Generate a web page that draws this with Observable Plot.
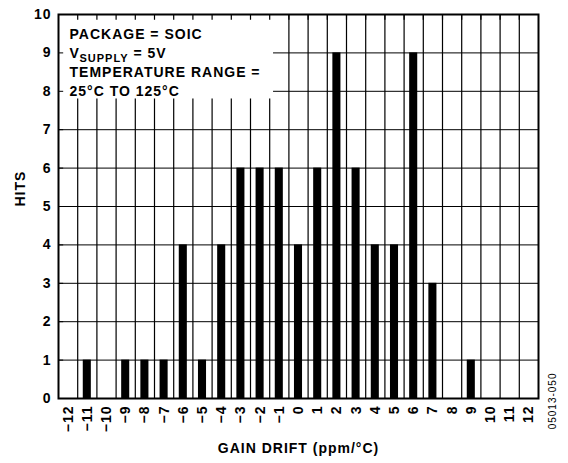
<!DOCTYPE html>
<html>
<head>
<meta charset="utf-8">
<script src="https://cdn.jsdelivr.net/npm/d3@7"></script>
<script src="https://cdn.jsdelivr.net/npm/@observablehq/plot@0.6"></script>
<style>
  html, body { margin: 0; padding: 0; background: #fff; }
</style>
</head>
<body>
<div id="chart"></div>
<script>
// ---- data ----
const gainDrift = [-12, -11, -10, -9, -8, -7, -6, -5, -4, -3, -2, -1, 0, 1, 2, 3, 4, 5, 6, 7, 8, 9, 10, 11, 12];
const hits      = [  0,   1,   0,  1,  1,  1,  4,  1,  4,  6,  6,  6, 4, 6, 9, 6, 4, 4, 9, 3, 0, 1,  0,  0,  0];
const xTickLabels = ["−12", "−11", "−10", "−9", "−8", "−7", "−6", "−5", "−4", "−3", "−2", "−1", "0", "1", "2", "3", "4", "5", "6", "7", "8", "9", "10", "11", "12"];
const yTicks = [0, 1, 2, 3, 4, 5, 6, 7, 8, 9, 10];
const xLabel = "GAIN DRIFT (ppm/°C)";
const yLabel = "HITS";
const figureId = "05013-050";
const noteLines = ["PACKAGE = SOIC", "V", "SUPPLY", "= 5V", "TEMPERATURE RANGE =", "25°C TO 125°C"];

const table = gainDrift.map((g, i) => ({g, h: hits[i]})).filter(d => d.h > 0);
const xMin = gainDrift[0] - 0.5, xMax = gainDrift[gainDrift.length - 1] + 0.5;
const cellEdges = d3.range(xMin + 1, xMax, 1);
const barHalf = 0.21;
const font = "Arial, 'Liberation Sans', Helvetica, sans-serif";

const plot = Plot.plot({
  width: 568,
  height: 463,
  marginLeft: 58,
  marginRight: 30,
  marginTop: 14,
  marginBottom: 65,
  style: {fontFamily: font, fontSize: "14px", fontWeight: "bold", letterSpacing: "1px", color: "#000", background: "#fff"},
  x: {domain: [xMin, xMax], ticks: gainDrift, tickFormat: d => xTickLabels[gainDrift.indexOf(d)], tickRotate: -90, tickSize: 0, tickPadding: 7, label: null},
  y: {domain: [0, 10], ticks: yTicks, tickSize: 0, tickPadding: 7, label: null},
  marks: [
    Plot.ruleY(yTicks, {y: d => d, stroke: "#000", strokeWidth: 1}),
    Plot.ruleX(cellEdges, {x: d => d, stroke: "#000", strokeWidth: 1.2}),
    Plot.rect([0], {x1: xMin, x2: -1.3, y1: 7.8, y2: 10, fill: "#fff"}),
    Plot.rectY(table, {x1: d => d.g - barHalf, x2: d => d.g + barHalf, y1: 0, y2: d => d.h, fill: "#000"}),
    Plot.ruleY(yTicks, {y: d => d, x1: xMin, x2: xMin + 0.27, stroke: "#000"}),
    Plot.ruleX(cellEdges, {x: d => d, y1: 10, y2: 9.85, stroke: "#000", strokeWidth: 1.2}),
    Plot.frame({stroke: "#000", strokeWidth: 2}),
    Plot.text([noteLines[0]], {frameAnchor: "top-left", textAnchor: "start", lineAnchor: "bottom", dx: 11, dy: 24, text: d => d}),
    Plot.text([noteLines[1]], {frameAnchor: "top-left", textAnchor: "start", lineAnchor: "bottom", dx: 11, dy: 43, text: d => d}),
    Plot.text([noteLines[2]], {frameAnchor: "top-left", textAnchor: "start", lineAnchor: "bottom", dx: 21, dy: 47, fontSize: 11, text: d => d}),
    Plot.text([noteLines[3]], {frameAnchor: "top-left", textAnchor: "start", lineAnchor: "bottom", dx: 75, dy: 43, text: d => d}),
    Plot.text([noteLines[4]], {frameAnchor: "top-left", textAnchor: "start", lineAnchor: "bottom", dx: 11, dy: 62, text: d => d}),
    Plot.text([noteLines[5]], {frameAnchor: "top-left", textAnchor: "start", lineAnchor: "bottom", dx: 11, dy: 81, text: d => d}),
    Plot.text([yLabel], {frameAnchor: "left", dx: -38, rotate: -90, text: d => d}),
    Plot.text([xLabel], {frameAnchor: "bottom", dy: 54, text: d => d}),
    Plot.text([figureId], {frameAnchor: "bottom-right", dx: 17, dy: -26, rotate: -90, fontSize: 10, fontWeight: "normal", letterSpacing: "0px", text: d => d})
  ]
});
document.getElementById("chart").appendChild(plot);
</script>
</body>
</html>
